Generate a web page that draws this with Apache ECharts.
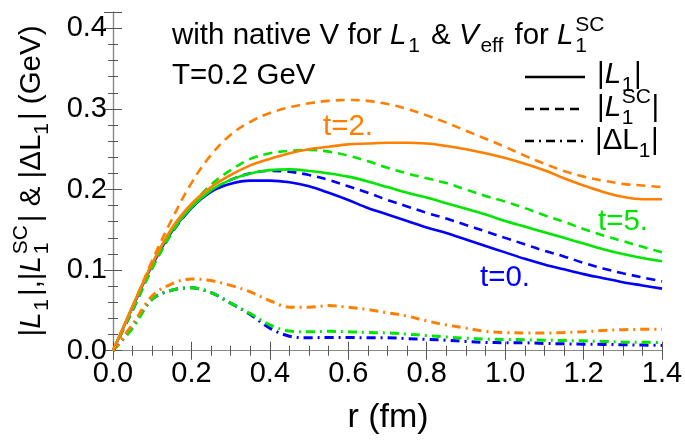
<!DOCTYPE html>
<html><head><meta charset="utf-8">
<script src="https://cdn.jsdelivr.net/npm/echarts@6/dist/echarts.min.js"></script>
<style>html,body{margin:0;padding:0;background:#fff}#c{width:685px;height:441px}</style>
</head><body><div id="c"></div>
<script>
// ---------- data ----------
const r = [0,0.05,0.1,0.15,0.2,0.25,0.3,0.35,0.4,0.45,0.5,0.55,0.6,0.65,0.7,0.75,0.8,0.85,0.9,0.95,1.0,1.05,1.1,1.15,1.2,1.25,1.3,1.35,1.4];
const L1_t0  = [0,0.054,0.106,0.148,0.177,0.197,0.207,0.211,0.211,0.209,0.204,0.196,0.187,0.177,0.169,0.161,0.153,0.146,0.138,0.130,0.122,0.114,0.107,0.101,0.095,0.090,0.085,0.081,0.077];
const LSC_t0 = [0,0.050,0.103,0.146,0.177,0.198,0.212,0.220,0.223,0.222,0.218,0.212,0.204,0.196,0.187,0.179,0.171,0.164,0.156,0.148,0.140,0.132,0.124,0.117,0.109,0.102,0.096,0.091,0.086];
const dL_t0  = [0,0.030,0.064,0.075,0.078,0.072,0.059,0.045,0.028,0.018,0.016,0.0165,0.0165,0.016,0.016,0.015,0.014,0.013,0.0115,0.0103,0.0099,0.0098,0.009,0.0085,0.008,0.0078,0.0074,0.007,0.0066];
const L1_t2  = [0,0.055,0.108,0.152,0.182,0.203,0.218,0.230,0.238,0.245,0.250,0.253,0.256,0.257,0.258,0.258,0.257,0.254,0.250,0.245,0.239,0.232,0.224,0.214,0.205,0.197,0.191,0.188,0.188];
const LSC_t2 = [0,0.055,0.112,0.163,0.208,0.243,0.268,0.284,0.295,0.302,0.307,0.310,0.311,0.310,0.306,0.300,0.292,0.283,0.273,0.263,0.253,0.242,0.232,0.223,0.216,0.211,0.207,0.205,0.203];
const dL_t2  = [0,0.033,0.068,0.083,0.089,0.087,0.081,0.073,0.062,0.054,0.054,0.056,0.054,0.051,0.047,0.043,0.037,0.032,0.028,0.024,0.0225,0.022,0.022,0.0225,0.0235,0.025,0.026,0.0265,0.0265];
const L1_t5  = [0,0.055,0.108,0.149,0.178,0.199,0.212,0.220,0.224,0.225,0.223,0.220,0.216,0.210,0.203,0.196,0.190,0.183,0.176,0.169,0.161,0.154,0.147,0.140,0.133,0.126,0.120,0.115,0.111];
const LSC_t5 = [0,0.050,0.102,0.146,0.180,0.206,0.224,0.238,0.245,0.248,0.249,0.247,0.242,0.235,0.227,0.220,0.214,0.208,0.200,0.192,0.185,0.177,0.168,0.160,0.151,0.143,0.136,0.129,0.122];
const dL_t5  = [0,0.028,0.064,0.075,0.078,0.072,0.059,0.046,0.032,0.0245,0.0235,0.024,0.0235,0.0225,0.022,0.0205,0.0188,0.017,0.0155,0.0145,0.014,0.0136,0.013,0.0126,0.0122,0.0115,0.0108,0.0104,0.0103];
const xTicksMajor = [0,0.2,0.4,0.6,0.8,1.0,1.2,1.4];
const yTicksMajor = [0,0.1,0.2,0.3,0.4];

// ---------- styles ----------
const FONT = '"Liberation Sans", Arial, sans-serif';
const C_BLUE = '#0000ff', C_ORANGE = '#ff8000', C_GREEN = '#00e600';
const SOLID = 'solid', DASH = [9, 6], DASHDOT = [9, 5, 2, 5];
const FRAME = '#888', TICK = '#555';

const pairs = v => r.map((x, i) => [x, v[i]]);
function line(name, vals, color, type, width) {
  return { name, type: 'line', data: pairs(vals), showSymbol: false, smooth: 0.35,
    xAxisIndex: 0, yAxisIndex: 0, silent: true,
    lineStyle: { color, type, width: width || 2.6, cap: 'butt' } };
}

// ---------- math text helper (layout only) ----------
const mctx = document.createElement('canvas').getContext('2d');
function tw(t, size, it) { mctx.font = (it ? 'italic ' : 'normal ') + size + 'px ' + FONT; return mctx.measureText(t).width; }
function mathText(segs, S, color, opt) {
  opt = opt || {};
  const small = Math.round(S * 0.72);
  const g1 = opt.tight ? 0.02 * S : 0.06 * S, g2 = opt.tight ? 0.02 * S : 0.1 * S;
  let x = 0, lastStart = 0, prevKind = 'n'; const items = [];
  segs.forEach(s => {
    const t = s[0], k = s[1] || 'n';
    const it = (k === 'i');
    const script = k.indexOf('sub') === 0 || k.indexOf('sup') === 0;
    const prevScript = prevKind.indexOf('sub') === 0 || prevKind.indexOf('sup') === 0;
    let size = S, dy = 0;
    if (k.indexOf('sub') === 0) { size = small; dy = 0.24 * S; }
    if (k.indexOf('sup') === 0) { size = small; dy = -0.44 * S; }
    const w = tw(t, size, it);
    let start;
    if (k.indexOf('stack') >= 0) { start = lastStart; x = Math.max(x, start + w); }
    else {
      if (script && prevKind === 'i') x += g1;
      if (!script && prevScript) x += g2;
      start = x; x += w;
    }
    lastStart = start; prevKind = k;
    items.push({ t, size, it, dy, start });
  });
  const off = opt.center ? -x / 2 : 0;
  const children = items.map(o => ({
    type: 'text', x: o.start + off, y: o.dy - 0.35 * o.size,
    style: { text: o.t, fontSize: o.size, fontFamily: FONT, fontStyle: o.it ? 'italic' : 'normal',
      fill: color, align: 'left', verticalAlign: 'middle' }
  }));
  return { type: 'group', x: opt.x, y: opt.y, rotation: opt.rotation || 0, children, silent: true };
}

// ---------- axes ----------
const GRID = { left: 113, top: 12.2, width: 549, height: 338.5, outerBoundsMode: 'none', containLabel: false };
function xAx(pos, interval, len, labels, showLine) {
  return { type: 'value', position: pos, min: 0, max: 1.4, interval,
    axisLine: { show: showLine, lineStyle: { color: FRAME, width: 1.2 } },
    axisTick: { show: true, inside: true, length: len, lineStyle: { color: TICK, width: 1 } },
    axisLabel: labels ? { show: true, margin: 9, color: '#000', fontSize: 29, fontFamily: FONT,
      formatter: v => xTicksMajor.some(t => Math.abs(t - v) < 1e-6) ? v.toFixed(1) : '' } : { show: false },
    splitLine: { show: false } };
}
function yAx(pos, interval, len, labels, showLine) {
  return { type: 'value', position: pos, min: 0, max: 0.42, interval,
    axisLine: { show: showLine, lineStyle: { color: FRAME, width: 1.2 } },
    axisTick: { show: true, inside: true, length: len, lineStyle: { color: TICK, width: 1 } },
    axisLabel: labels ? { show: true, margin: 6, color: '#000', fontSize: 29, fontFamily: FONT,
      formatter: v => yTicksMajor.some(t => Math.abs(t - v) < 1e-6) ? v.toFixed(1) : '' } : { show: false },
    splitLine: { show: false } };
}

const S = 29.5;
const option = {
  backgroundColor: '#fff',
  animation: false,
  grid: GRID,
  xAxis: [xAx('bottom', 0.2, 9, true, true), xAx('bottom', 0.05, 5, false, false),
          xAx('top', 0.2, 9, false, true), xAx('top', 0.05, 5, false, false)],
  yAxis: [yAx('left', 0.1, 9, true, true), yAx('left', 0.02, 5, false, false),
          yAx('right', 0.1, 9, false, true), yAx('right', 0.02, 5, false, false)],
  series: [
    line('dL t0', dL_t0, C_BLUE, DASHDOT, 3),
    line('dL t5', dL_t5, C_GREEN, DASHDOT, 3),
    line('dL t2', dL_t2, C_ORANGE, DASHDOT, 3),
    line('LSC t0', LSC_t0, C_BLUE, DASH),
    line('L1 t0', L1_t0, C_BLUE, SOLID),
    line('LSC t5', LSC_t5, C_GREEN, DASH),
    line('L1 t5', L1_t5, C_GREEN, SOLID),
    line('LSC t2', LSC_t2, C_ORANGE, DASH),
    line('L1 t2', L1_t2, C_ORANGE, SOLID)
  ],
  graphic: [
    mathText([['with native V for '], ['L', 'i'], ['1', 'sub'], [' & '], ['V', 'i'], ['eff', 'sub'], [' for '], ['L', 'i'], ['SC', 'sup'], ['1', 'sub stack']], S, '#000', { x: 172, y: 46 }),
    mathText([['T=0.2 GeV']], S, '#000', { x: 172, y: 86 }),
    mathText([['t=2.']], S, C_ORANGE, { x: 323, y: 137 }),
    mathText([['t=5.']], S, C_GREEN, { x: 598, y: 232 }),
    mathText([['t=0.']], S, C_BLUE, { x: 480, y: 288 }),
    // legend
    { type: 'line', shape: { x1: 525, y1: 77, x2: 585, y2: 77 }, style: { stroke: '#000', lineWidth: 2.6 }, silent: true },
    { type: 'line', shape: { x1: 525, y1: 109, x2: 585, y2: 109 }, style: { stroke: '#000', lineWidth: 2.6, lineDash: DASH }, silent: true },
    { type: 'line', shape: { x1: 525, y1: 141, x2: 585, y2: 141 }, style: { stroke: '#000', lineWidth: 2.6, lineDash: DASHDOT }, silent: true },
    mathText([['|'], ['L', 'i'], ['1', 'sub'], ['|']], S, '#000', { x: 597, y: 85, tight: true }),
    mathText([['|'], ['L', 'i'], ['SC', 'sup'], ['1', 'sub stack'], ['|']], S, '#000', { x: 597, y: 118, tight: true }),
    mathText([['|ΔL'], ['1', 'sub'], ['|']], S, '#000', { x: 595, y: 151, tight: true }),
    // axis titles
    mathText([['|'], ['L', 'i'], ['1', 'sub'], ['|,|'], ['L', 'i'], ['SC', 'sup'], ['1', 'sub stack'], ['| & |ΔL'], ['1', 'sub'], ['| (GeV)']], S, '#000', { x: 42, y: 181, rotation: Math.PI / 2, center: true }),
    mathText([['r (fm)']], 34, '#000', { x: 388, y: 430, center: true })
  ]
};
const chart = echarts.init(document.getElementById('c'), null, { renderer: 'canvas', width: 685, height: 441 });
chart.setOption(option);
</script>
</body></html>
